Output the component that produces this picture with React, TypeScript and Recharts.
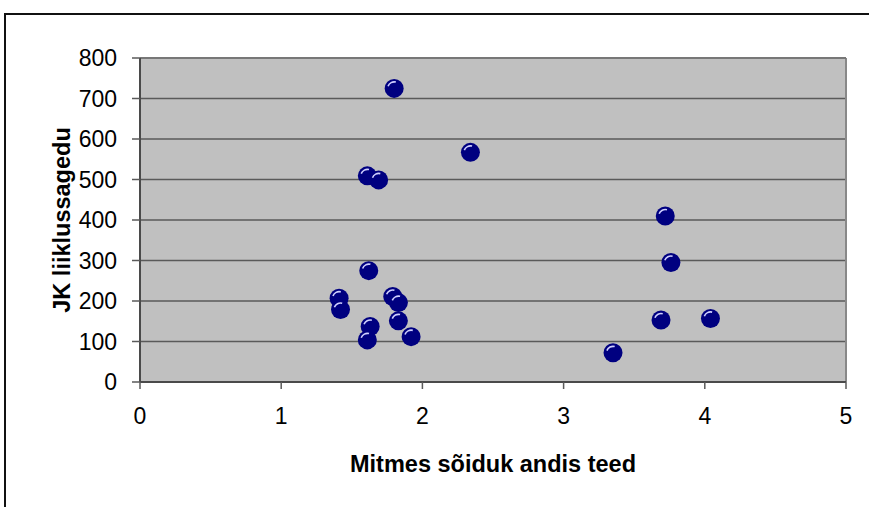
import React from "react";
import { ScatterChart, Scatter, XAxis, YAxis, CartesianGrid, ReferenceLine } from "recharts";

const xValues = [1.8, 2.34, 1.61, 1.69, 1.62, 1.41, 1.42, 1.79, 1.83, 1.83, 1.63, 1.61, 1.92, 3.72, 3.76, 3.69, 4.04, 3.35];
const yValues = [725, 567, 509, 499, 275, 207, 179, 211, 196, 151, 137, 104, 112, 410, 295, 153, 157, 72];
const xTicks = [0, 1, 2, 3, 4, 5];
const yTicks = [0, 100, 200, 300, 400, 500, 600, 700, 800];
const xTitle = "Mitmes sõiduk andis teed";
const yTitle = "JK liiklussagedu";

const data = xValues.map((x, i) => ({ x, y: yValues[i] }));

const FONT = "'Liberation Sans', Arial, sans-serif";

const Ball = (props: any) => {
  const { cx, cy } = props;
  if (cx == null || cy == null) return null;
  const r = 9.5;
  const ir = 6.5;
  const a1 = (200 * Math.PI) / 180;
  const a2 = (285 * Math.PI) / 180;
  const x1 = cx + ir * Math.cos(a1);
  const y1 = cy + ir * Math.sin(a1);
  const x2 = cx + ir * Math.cos(a2);
  const y2 = cy + ir * Math.sin(a2);
  return (
    <g>
      <circle cx={cx} cy={cy} r={r} fill="#000080" />
      <path d={`M${x1},${y1} A${ir},${ir} 0 0 1 ${x2},${y2}`} stroke="#d0d0ff" strokeWidth={1.6} fill="none" />
    </g>
  );
};

export default function App() {
  return (
    <div style={{ position: "absolute", left: 0, top: 0, width: 869, height: 507, overflow: "hidden", background: "#fff" }}>
      <div style={{ position: "absolute", left: 4, top: 13, width: 1000, height: 1000, borderLeft: "2px solid #111", borderTop: "2px solid #111" }} />
      <div style={{ position: "absolute", left: 0, top: 0 }}>
        <ScatterChart width={869} height={507} margin={{ top: 58, right: 23, bottom: 85, left: 80 }}>
          <CartesianGrid horizontal={true} vertical={false} fill="#c0c0c0" stroke="#5a5a5a" strokeWidth={1.5} horizontalValues={yTicks} />
          <XAxis
            type="number"
            dataKey="x"
            domain={[0, 5]}
            ticks={xTicks}
            interval={0}
            height={40}
            tickSize={7}
            tickMargin={19}
            axisLine={{ stroke: "#4a4a4a", strokeWidth: 2 }}
            tickLine={{ stroke: "#5a5a5a", strokeWidth: 1.5 }}
            tick={{ fill: "#000", fontSize: 23, fontFamily: FONT }}
          />
          <YAxis
            type="number"
            dataKey="y"
            domain={[0, 800]}
            ticks={yTicks}
            interval={0}
            width={60}
            tickSize={8}
            tickMargin={15}
            axisLine={{ stroke: "#4a4a4a", strokeWidth: 2 }}
            tickLine={{ stroke: "#5a5a5a", strokeWidth: 1.5 }}
            tick={{ fill: "#000", fontSize: 23, fontFamily: FONT }}
          />
          <ReferenceLine x={5} stroke="#888" strokeWidth={2} />
          <ReferenceLine y={800} stroke="#777" strokeWidth={2} />
          <Scatter data={data} shape={<Ball />} isAnimationActive={false} />
        </ScatterChart>
      </div>
      <svg width={869} height={507} style={{ position: "absolute", left: 0, top: 0, pointerEvents: "none" }}>
        <text x={493} y={472} textAnchor="middle" fontFamily={FONT} fontWeight="bold" fontSize={23.5} fill="#000">
          {xTitle}
        </text>
        <text
          x={0}
          y={0}
          transform="translate(70,220) rotate(-90)"
          textAnchor="middle"
          fontFamily={FONT}
          fontWeight="bold"
          fontSize={23.5}
          fill="#000"
        >
          {yTitle}
        </text>
      </svg>
    </div>
  );
}
